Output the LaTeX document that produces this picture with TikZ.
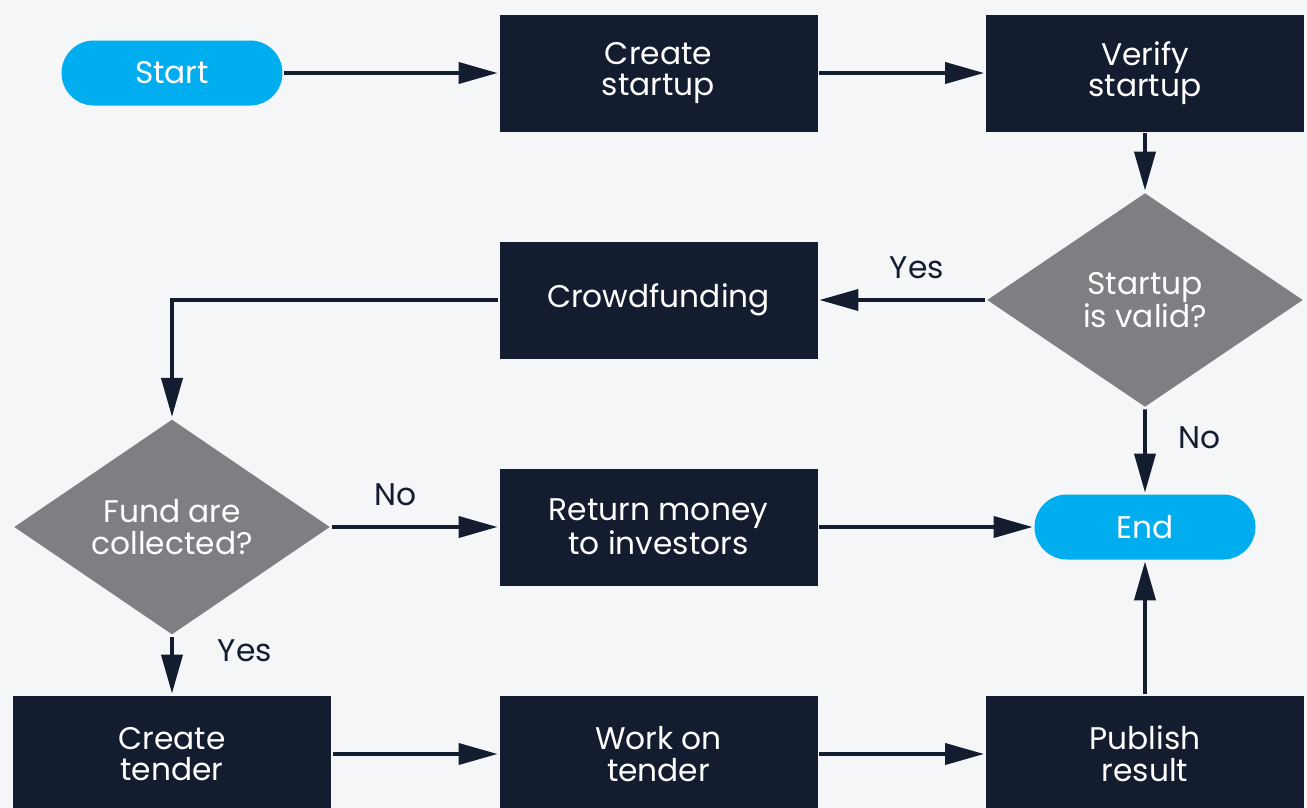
\documentclass[tikz,border=0pt]{standalone}
\usepackage{fontspec}
\setmainfont{Poppins}
\usetikzlibrary{arrows.meta}
\usetikzlibrary{shapes}
\definecolor{navy}{HTML}{141C2F}
\definecolor{slate}{HTML}{7E7F83}
\definecolor{sky}{HTML}{00AEEF}
\definecolor{paper}{HTML}{F5F6F8}
\tikzstyle{base} = [rectangle, inner sep=0pt, text=white, align=center, font=\fontsize{17.8}{18}\selectfont]
\tikzstyle{terminal} = [base, rounded corners=0.65cm, fill=sky, minimum width=4.42cm, minimum height=1.3cm]
\tikzstyle{process} = [base, fill=navy, minimum width=6.36cm, minimum height=2.34cm]
\tikzstyle{decision} = [base, diamond, fill=slate, minimum width=6.34cm, minimum height=4.3cm]
\tikzstyle{answer} = [inner sep=0pt, text=navy, font=\fontsize{17.8}{18}\selectfont]

\begin{document}
\begin{tikzpicture}[node distance=4.54cm, line width=2.2pt, >={Triangle[length=0.78cm, width=0.42cm]}]
  \path[use as bounding box, fill=paper] (-3.44,1.46) rectangle (22.7,-14.7);

  \node (start)   [terminal] {Start};
  \node (create)  [process, right of=start, xshift=5.19cm] {Create\\startup};
  \node (verify)  [process, right of=create, xshift=5.19cm] {Verify\\startup};
  \node (valid)   [decision, below of=verify] {Startup\\is valid?};
  \node (crowd)   [process, left of=valid, xshift=-5.19cm] {Crowdfunding};
  \node (funds)   [decision, below of=crowd, xshift=-9.73cm] {Fund are\\collected?};
  \node (refund)  [process, right of=funds, xshift=5.19cm] {Return money\\to investors};
  \node (stop)    [terminal, right of=refund, xshift=5.19cm] {End};
  \node (tender)  [process, below of=funds] {Create\\tender};
  \node (work)    [process, right of=tender, xshift=5.19cm] {Work on\\tender};
  \node (publish) [process, right of=work, xshift=5.19cm] {Publish\\result};

  \draw[->, navy] (start) -- (create);
  \draw[->, navy] (create) -- (verify);
  \draw[->, navy] (verify) -- (valid);
  \draw[->, navy] (valid) -- node[answer, above=11pt, pos=0.41] {Yes} (crowd);
  \draw[->, navy] (valid) -- node[answer, right=18pt, pos=0.34] {No} (stop);
  \draw[->, navy] (crowd) -| (funds);
  \draw[->, navy] (funds) -- node[answer, above=11pt, pos=0.38] {No} (refund);
  \draw[->, navy] (funds) -- node[answer, right=25pt, pos=0.25] {Yes} (tender);
  \draw[->, navy] (refund) -- (stop);
  \draw[->, navy] (tender) -- (work);
  \draw[->, navy] (work) -- (publish);
  \draw[->, navy] (publish) -- (stop);
\end{tikzpicture}
\end{document}
